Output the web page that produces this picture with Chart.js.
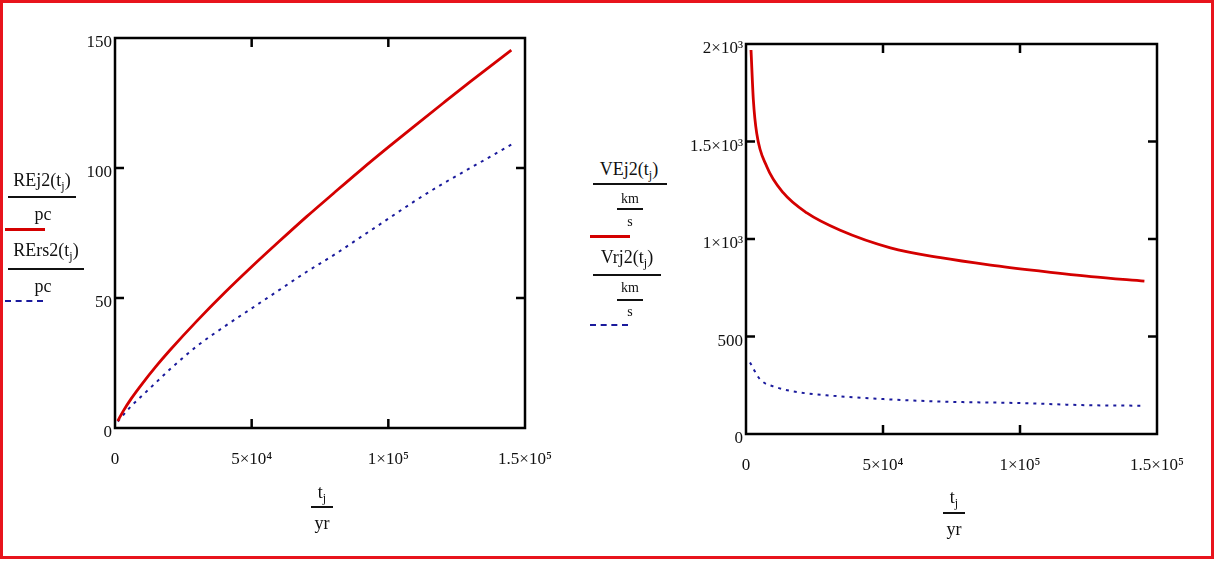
<!DOCTYPE html>
<html>
<head>
<meta charset="utf-8">
<script src="https://cdn.jsdelivr.net/npm/chart.js@4.4.1/dist/chart.umd.min.js"></script>
<style>
  html, body { margin: 0; padding: 0; background: #fff; }
  #page { position: relative; width: 1216px; height: 561px; overflow: hidden; font-family: "Liberation Serif", "DejaVu Serif", serif; color: #111; }
  #frame { position: absolute; left: 0; top: 0; width: 1208px; height: 553px; border: 3px solid #e8141c; }
  .cv { position: absolute; }
  .t { position: absolute; white-space: nowrap; font-size: 18px; transform: translate(-50%, -50%); }
  .sm { font-size: 14px; }
  .bar { position: absolute; height: 2px; background: #111; }
  .key { position: absolute; height: 3px; }
  .dash { position: absolute; height: 0; border-top: 2px dashed #1a1a9c; }
</style>
</head>
<body>
<div id="page">
  <div id="frame"></div>
  <canvas id="leftChart" class="cv" style="left:40px;top:28px;width:520px;height:480px"></canvas>
  <canvas id="rightChart" class="cv" style="left:666px;top:34px;width:526px;height:480px"></canvas>

  <!-- left legend -->
  <div class="t" style="left:42px;top:182px">REj2(t<sub style="font-size:12px">j</sub>)</div>
  <div class="bar" style="left:8px;top:196px;width:68px"></div>
  <div class="t" style="left:43px;top:214px">pc</div>
  <div class="key" style="left:5px;top:228px;width:40px;background:#d40000"></div>
  <div class="t" style="left:46px;top:252px">RErs2(t<sub style="font-size:12px">j</sub>)</div>
  <div class="bar" style="left:8px;top:268px;width:76px"></div>
  <div class="t" style="left:43px;top:286px">pc</div>
  <div class="dash" style="left:5px;top:300px;width:38px"></div>

  <!-- left x title -->
  <div class="t" style="left:322px;top:494px">t<sub style="font-size:12px">j</sub></div>
  <div class="bar" style="left:311px;top:506px;width:22px"></div>
  <div class="t" style="left:322px;top:523px">yr</div>

  <!-- right legend -->
  <div class="t" style="left:629px;top:171px">VEj2(t<sub style="font-size:12px">j</sub>)</div>
  <div class="bar" style="left:593px;top:183px;width:74px"></div>
  <div class="t sm" style="left:630px;top:199px">km</div>
  <div class="bar" style="left:617px;top:208px;width:26px"></div>
  <div class="t sm" style="left:630px;top:222px">s</div>
  <div class="key" style="left:590px;top:235px;width:40px;background:#d40000"></div>
  <div class="t" style="left:627px;top:259px">Vrj2(t<sub style="font-size:12px">j</sub>)</div>
  <div class="bar" style="left:593px;top:274px;width:68px"></div>
  <div class="t sm" style="left:630px;top:288px">km</div>
  <div class="bar" style="left:617px;top:299px;width:26px"></div>
  <div class="t sm" style="left:630px;top:312px">s</div>
  <div class="dash" style="left:590px;top:324px;width:38px"></div>

  <!-- right x title -->
  <div class="t" style="left:954px;top:499px">t<sub style="font-size:12px">j</sub></div>
  <div class="bar" style="left:943px;top:512px;width:22px"></div>
  <div class="t" style="left:954px;top:529px">yr</div>
</div>

<script>
// left plot: distances in pc
const tL = [1000, 3000, 6000, 10000, 15000, 20000, 30000, 40000, 50000, 60000, 70000, 80000, 90000, 100000, 110000, 120000, 130000, 145000];
const REj2 = [2.7, 6.5, 11.4, 17.1, 23.7, 29.8, 41.2, 51.9, 62, 71.7, 81.2, 90.3, 99.3, 108, 116.5, 124.9, 133.2, 145.3];
const RErs2 = [2.5, 5, 8.5, 12.5, 17.5, 22.5, 31.5, 39, 46, 53, 60, 66.5, 73.5, 80.5, 87.5, 94, 100, 109];

// right plot: speeds in km/s
const tRedR = [1830, 2680, 3900, 7570, 13650, 22200, 34400, 52700, 71000, 89300, 107600, 125900, 145400];
const VEj2 = [1969, 1714, 1543, 1372, 1236, 1134, 1045, 955, 904, 866, 835, 807, 784];
const tBlueR = [1460, 5100, 11230, 19750, 31950, 50200, 74600, 99000, 123400, 144800];
const Vrj2 = [367, 281, 239, 213, 196, 179, 165, 159, 148, 145];

const xTicks = [0, 50000, 100000, 150000];
const xTickLabels = ['0', '5×10⁴', '1×10⁵', '1.5×10⁵'];
const yTicksL = [0, 50, 100, 150];
const yTickLabelsL = ['0', '50', '100', '150'];
const yTicksR = [0, 500, 1000, 1500, 2000];
const yTickLabelsR = ['0', '500', '1×10³', '1.5×10³', '2×10³'];

const RED = '#d40000';
const BLUE = '#1a1a9c';
const tickFont = { family: 'Liberation Serif', size: 17 };

function pts(xs, ys) {
    return xs.map((x, i) => ({ x: x, y: ys[i] }));
}

// box + inward ticks like mathcad
const boxPlugin = {
    id: 'box',
    afterDraw(chart) {
        const c = chart.ctx, a = chart.chartArea;
        const xs = chart.scales.x, ys = chart.scales.y;
        c.save();
        c.strokeStyle = '#000';
        c.lineWidth = 2.5;
        c.strokeRect(a.left, a.top, a.right - a.left, a.bottom - a.top);
        c.beginPath();
        xs.ticks.forEach(t => {
            const px = xs.getPixelForValue(t.value);
            if (px <= a.left + 1 || px >= a.right - 1) return;
            c.moveTo(px, a.bottom); c.lineTo(px, a.bottom - 9);
            c.moveTo(px, a.top); c.lineTo(px, a.top + 9);
        });
        ys.ticks.forEach(t => {
            const py = ys.getPixelForValue(t.value);
            if (py <= a.top + 1 || py >= a.bottom - 1) return;
            c.moveTo(a.left, py); c.lineTo(a.left + 9, py);
            c.moveTo(a.right, py); c.lineTo(a.right - 9, py);
        });
        c.stroke();
        c.restore();
    }
};

function makeChart(id, red, blue, yTicks, yLabels, yW) {
    return new Chart(document.getElementById(id), {
        type: 'scatter',
        data: {
            datasets: [{
                data: red,
                showLine: true,
                borderColor: RED,
                borderWidth: 2.8,
                pointRadius: 0,
                cubicInterpolationMode: 'monotone'
            }, {
                data: blue,
                showLine: true,
                borderColor: BLUE,
                borderWidth: 2,
                borderDash: [3, 5],
                pointRadius: 0,
                cubicInterpolationMode: 'monotone'
            }]
        },
        options: {
            responsive: false,
            animation: false,
            layout: { padding: { top: 10, right: 35, left: 0, bottom: 0 } },
            plugins: { legend: { display: false }, tooltip: { enabled: false } },
            scales: {
                x: {
                    type: 'linear', min: 0, max: 150000,
                    afterBuildTicks: s => { s.ticks = xTicks.map(v => ({ value: v })); },
                    afterFit: s => { s.height = 80; s.paddingLeft = 0; s.paddingRight = 0; },
                    grid: { display: false, drawTicks: false },
                    border: { display: false },
                    ticks: {
                        font: tickFont, color: '#111', padding: 21, maxRotation: 0, autoSkip: false,
                        callback: v => xTickLabels[xTicks.indexOf(v)]
                    }
                },
                y: {
                    type: 'linear', min: 0, max: yTicks[yTicks.length - 1],
                    afterBuildTicks: s => { s.ticks = yTicks.map(v => ({ value: v })); },
                    afterFit: s => { s.width = yW; s.paddingTop = 0; s.paddingBottom = 0; },
                    grid: { display: false, drawTicks: false },
                    border: { display: false },
                    ticks: {
                        font: tickFont, color: '#111', padding: 3, labelOffset: 5, autoSkip: false,
                        callback: v => yLabels[yTicks.indexOf(v)]
                    }
                }
            }
        },
        plugins: [boxPlugin]
    });
}

function sizeCanvas(id, w, h) {
    const cv = document.getElementById(id);
    cv.width = w; cv.height = h;
}
sizeCanvas('leftChart', 520, 480);
sizeCanvas('rightChart', 526, 480);

const leftChart = makeChart('leftChart', pts(tL, REj2), pts(tL, RErs2), yTicksL, yTickLabelsL, 75);
// right canvas: left 666 + 80 = 746, top 34 + 10 = 44, bottom 514 - 79 = 435
const rightChart = makeChart('rightChart', pts(tRedR, VEj2), pts(tBlueR, Vrj2), yTicksR, yTickLabelsR, 80);
</script>
</body>
</html>
